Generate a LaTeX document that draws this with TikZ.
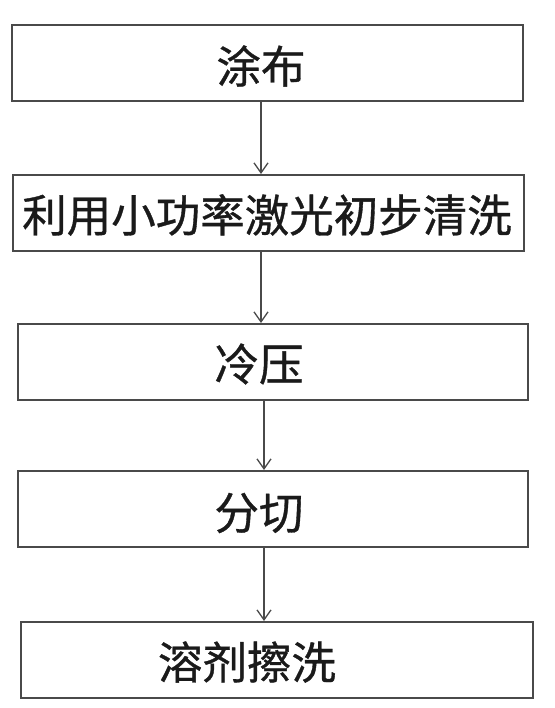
\documentclass[tikz,border=0pt]{standalone}
\usepackage{fontspec}
\newfontfamily\cjk[FakeBold=0.8]{Noto Sans CJK SC}
\usetikzlibrary{arrows.meta}
\definecolor{linegray}{HTML}{4A4A4A}
\definecolor{textgray}{HTML}{1A1A1A}
\begin{document}
\begin{tikzpicture}[x=1pt,y=-1pt,
  stepbox/.style={draw=linegray, line width=2pt, rectangle, inner sep=0pt},
  lbl/.style={inner sep=0pt, text=textgray, font=\cjk\fontsize{44.5}{50}\selectfont},
  flow/.style={draw=linegray, line width=1.3pt, -{Straight Barb[length=10pt,width=14pt,line width=1.3pt]}}]
\useasboundingbox (0,0) rectangle (554,708);
% boxes
\node[stepbox, minimum width=511pt, minimum height=76pt] (b1) at (267.5,63) {};
\node[stepbox, minimum width=511pt, minimum height=76pt] (b2) at (268,213) {};
\node[stepbox, minimum width=510pt, minimum height=76pt] (b3) at (273,362) {};
\node[stepbox, minimum width=510pt, minimum height=76pt] (b4) at (273,509) {};
\node[stepbox, minimum width=512pt, minimum height=76pt] (b5) at (277,660) {};
% labels
\node[lbl] (t1) at (261,66) {涂布};
\node[lbl] (t2) at (267,215) {利用小功率激光初步清洗};
\node[lbl] (t3) at (259,364) {冷压};
\node[lbl] (t4) at (259,513) {分切};
\node[lbl] (t5) at (247,662) {溶剂擦洗};
% connectors
\coordinate (a1) at (261,101);
\coordinate (a2) at (261,251);
\coordinate (a3) at (264,400);
\coordinate (a4) at (264,547);
\draw[flow] (a1) -- (a1 |- b2.north);
\draw[flow] (a2) -- (a2 |- b3.north);
\draw[flow] (a3) -- (a3 |- b4.north);
\draw[flow] (a4) -- (a4 |- b5.north);
\end{tikzpicture}
\end{document}
